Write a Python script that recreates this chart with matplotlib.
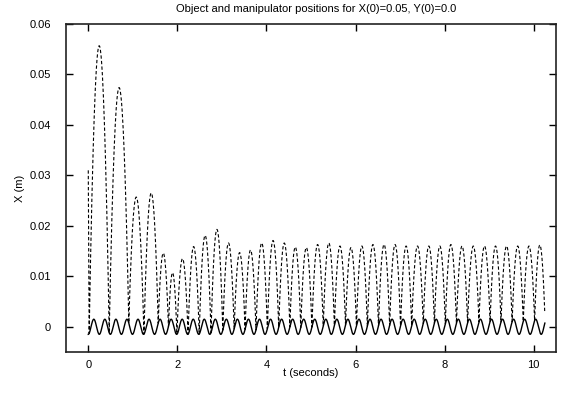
import numpy as np
import matplotlib
matplotlib.use("Agg")
import matplotlib.pyplot as plt

plt.rcParams['font.family'] = ['Liberation Sans', 'DejaVu Sans']

# values
# object (dashed): start value, contact times with the manipulator, peak heights of each flight
x_start = 0.031
contact_t = [0.02, 0.47, 0.91, 1.25, 1.57, 1.80, 1.99, 2.24, 2.49, 2.755,
             3.02, 3.275, 3.52, 3.765, 4.02, 4.275, 4.525, 4.77, 5.02, 5.275,
             5.525, 5.775, 6.02, 6.265, 6.515, 6.765, 7.01, 7.26, 7.52, 7.77,
             8.015, 8.265, 8.515, 8.77, 9.02, 9.265, 9.515, 9.765, 10.02, 10.255]
peak_x = [0.0557, 0.0474, 0.0257, 0.0265, 0.0146, 0.0107, 0.0135, 0.0159, 0.0181, 0.0193,
          0.0166, 0.0147, 0.0152, 0.0166, 0.0171, 0.0166, 0.0158, 0.0157, 0.0163, 0.0166,
          0.0160, 0.0157, 0.0160, 0.0163, 0.0163, 0.0163, 0.0160, 0.0160, 0.0160, 0.0160,
          0.0163, 0.0160, 0.0160, 0.0160, 0.0160, 0.0160, 0.0160, 0.0160, 0.0162]
t_end = 10.25

# manipulator (solid): amplitude and period of its oscillation
manip_amp = 0.0015
manip_period = 0.248


def manipulator(t):
    return -manip_amp * np.cos(2 * np.pi * t / manip_period)


def object_path():
    ts = [0.0]
    xs = [x_start]
    for i in range(len(peak_x)):
        ta, tb = contact_t[i], contact_t[i + 1]
        xa, xb = manipulator(ta), manipulator(tb)
        t = np.linspace(ta, tb, 60)
        s = (t - ta) / (tb - ta)
        x = xa + (xb - xa) * s + 4 * (peak_x[i] - (xa + xb) / 2) * s * (1 - s)
        keep = t <= t_end
        ts.extend(t[keep])
        xs.extend(x[keep])
    return np.array(ts), np.array(xs)


t_obj, x_obj = object_path()
t_man = np.linspace(0, t_end, 2000)
x_man = manipulator(t_man)

fig = plt.figure(figsize=(5.61, 3.94), dpi=100)
ax = fig.add_axes([66 / 561, 1 - 352 / 394, 490 / 561, 328 / 394])

ax.plot(t_obj, x_obj, color='black', lw=0.8, linestyle=(0, (3, 2)))
ax.plot(t_man, x_man, color='black', lw=1.0)

ax.set_xlim(-0.5, 10.5)
ax.set_ylim(-0.005, 0.06)

xticks = [0, 2, 4, 6, 8, 10]
yticks = [0, 0.01, 0.02, 0.03, 0.04, 0.05, 0.06]
ax.set_xticks(xticks)
ax.set_xticklabels([str(v) for v in xticks])
ax.set_yticks(yticks)
ax.set_yticklabels(['0', '0.01', '0.02', '0.03', '0.04', '0.05', '0.06'])

ax.tick_params(direction='in', length=5, width=1, top=True, right=True,
               labelsize=8, colors='black')
ax.tick_params(axis='x', pad=6)
ax.tick_params(axis='y', pad=11)
for sp in ax.spines.values():
    sp.set_linewidth(1.2)
    sp.set_color('#222222')

ax.set_xlabel('t (seconds)', fontsize=8, labelpad=-2)
ax.set_ylabel('X (m)', fontsize=8, labelpad=3)
fig.text(316 / 561, 1 - 9 / 394, 'Object and manipulator positions for X(0)=0.05, Y(0)=0.0',
         ha='center', va='center', fontsize=8)

fig.savefig('out.png', dpi=100)
